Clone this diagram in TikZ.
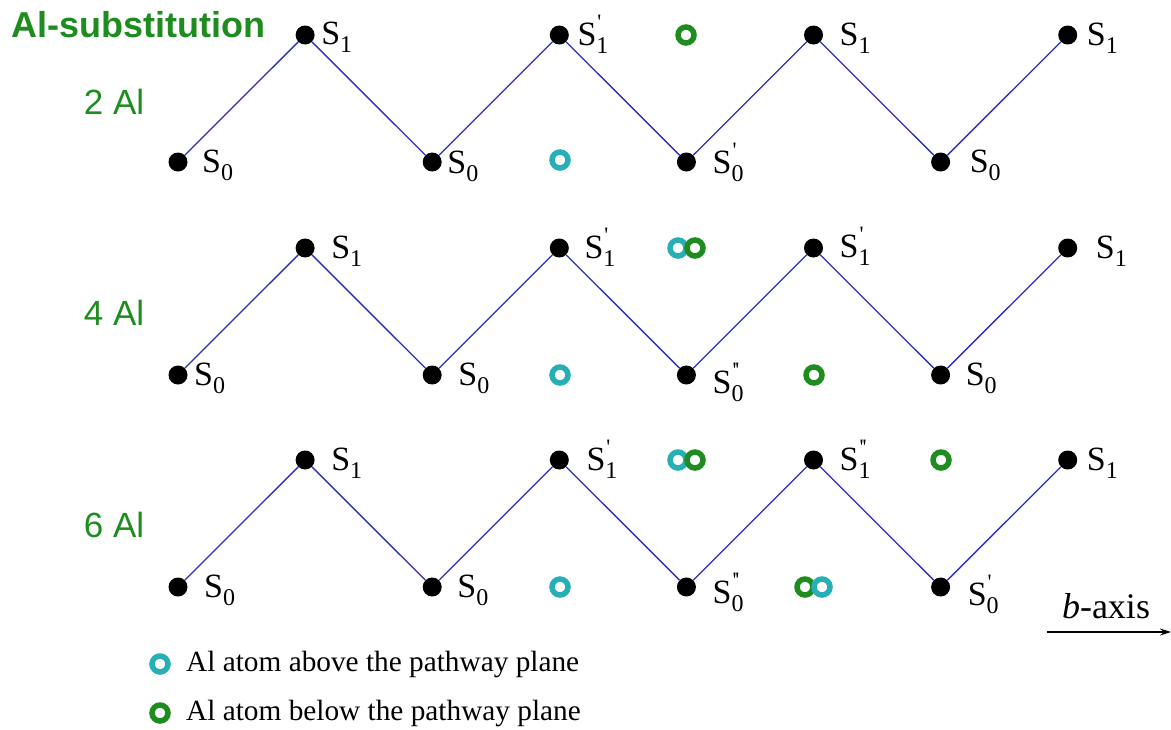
\documentclass[tikz,border=0pt]{standalone}
\usepackage{fontspec}
\setmainfont{Liberation Serif}
\newfontfamily\sansf{Liberation Sans}
\usetikzlibrary{arrows.meta}
\definecolor{lineblue}{RGB}{45,45,190}
\definecolor{alcyan}{RGB}{38,175,180}
\definecolor{algreen}{RGB}{30,140,30}
\newcommand{\Sl}[2]{S\rlap{\raisebox{16pt}{\fontsize{22}{22}\selectfont\kern1pt#2}}\raisebox{-8pt}{\fontsize{24}{24}\selectfont #1}}
\newcommand{\pr}{\textquotesingle}
\newcommand{\ppr}{\textquotesingle\kern-1pt\textquotesingle}
\tikzset{
  atom/.style={circle,fill=black,inner sep=0pt,minimum size=19pt},
  bond/.style={draw=lineblue,line width=1.3pt},
  slab/.style={anchor=base west,inner sep=0pt,font=\fontsize{34}{34}\selectfont},
  alup/.style={circle,draw=alcyan,line width=5.5pt,inner sep=0pt,minimum size=16pt},
  aldown/.style={circle,draw=algreen,line width=5.5pt,inner sep=0pt,minimum size=16pt},
  rowlab/.style={text=algreen,inner sep=0pt,font=\sansf\fontsize{35}{35}\selectfont},
  legtext/.style={anchor=west,inner sep=0pt,font=\fontsize{29.3}{29.3}\selectfont}
}
\begin{document}
\begin{tikzpicture}[x=1pt,y=-1pt]
\useasboundingbox (0,0) rectangle (1171,729);
\node[anchor=west,inner sep=0pt,text=algreen,font=\sansf\bfseries\fontsize{36}{36}\selectfont] (title) at (11,25) {Al-substitution};
% row labels
\node[rowlab] (l2) at (114,102) {2 Al};
\node[rowlab] (l4) at (114,313) {4 Al};
\node[rowlab] (l6) at (114,525) {6 Al};
% rows: label / x offset / baseline offset
\foreach \r/\yt/\yb/\labs in {
  a/35/162/{{\Sl{0}{}}/24/10,{\Sl{1}{}}/16/9,{\Sl{0}{}}/15/11,{\Sl{1}{\pr}}/18/10,{\Sl{0}{\pr}}/26/11,{\Sl{1}{}}/26/10,{\Sl{0}{}}/29/10,{\Sl{1}{}}/19/10},
  b/248/375/{{\Sl{0}{}}/16/10,{\Sl{1}{}}/26/10,{\Sl{0}{}}/26/10,{\Sl{1}{\pr}}/25/10,{\Sl{0}{\ppr}}/26/18,{\Sl{1}{\pr}}/26/9,{\Sl{0}{}}/25/10,{\Sl{1}{}}/28/10},
  c/460/587/{{\Sl{0}{}}/26/10,{\Sl{1}{}}/26/10,{\Sl{0}{}}/25/10,{\Sl{1}{\pr}}/27/10,{\Sl{0}{\ppr}}/26/16,{\Sl{1}{\ppr}}/26/10,{\Sl{0}{\pr}}/27/18,{\Sl{1}{}}/19/10}} {
  \foreach \lab/\dx/\dy [count=\i from 0] in \labs {
    \pgfmathsetmacro\xx{178+127.1*\i}
    \ifodd\i \pgfmathsetmacro\yy{\yt}\else\pgfmathsetmacro\yy{\yb}\fi
    \node[atom] (\r\i) at (\xx,\yy) {};
    \node[slab] (\r\i-t) at (\xx+\dx,\yy+\dy) {\lab};
  }
  \foreach \i [evaluate=\i as \j using int(\i+1)] in {0,...,6} {
    \draw[bond] (\r\i) -- (\r\j);
  }
}
% Al atoms row 1
\node[alup] (a-u1) at (560,160) {};
\node[aldown] (a-d1) at (686,35) {};
% row 2
\node[alup] (b-u1) at (678,248) {};
\node[aldown] (b-d1) at (695,248) {};
\node[alup] (b-u2) at (560,375) {};
\node[aldown] (b-d2) at (814,375) {};
% row 3
\node[alup] (c-u1) at (678,460) {};
\node[aldown] (c-d1) at (695,460) {};
\node[aldown] (c-d2) at (941,460) {};
\node[alup] (c-u2) at (560,587) {};
\node[aldown] (c-d3) at (805,587) {};
\node[alup] (c-u3) at (822,587) {};
% legend
\node[alup] (leg-u) at (160,664) {};
\node[legtext] (leg-ut) at (186,664) {Al atom above the pathway plane};
\node[aldown] (leg-d) at (160,713) {};
\node[legtext] (leg-dt) at (186,713) {Al atom below the pathway plane};
% b-axis
\coordinate (bs) at (1047,632);
\coordinate (be) at (1171,632);
\draw[line width=1.2pt,-{Stealth[length=11pt,width=7pt]}] (bs) -- (be);
\node[inner sep=0pt,font=\fontsize{36}{36}\selectfont] (bl) at (1106,606) {\textit{b}-axis};
\end{tikzpicture}
\end{document}
